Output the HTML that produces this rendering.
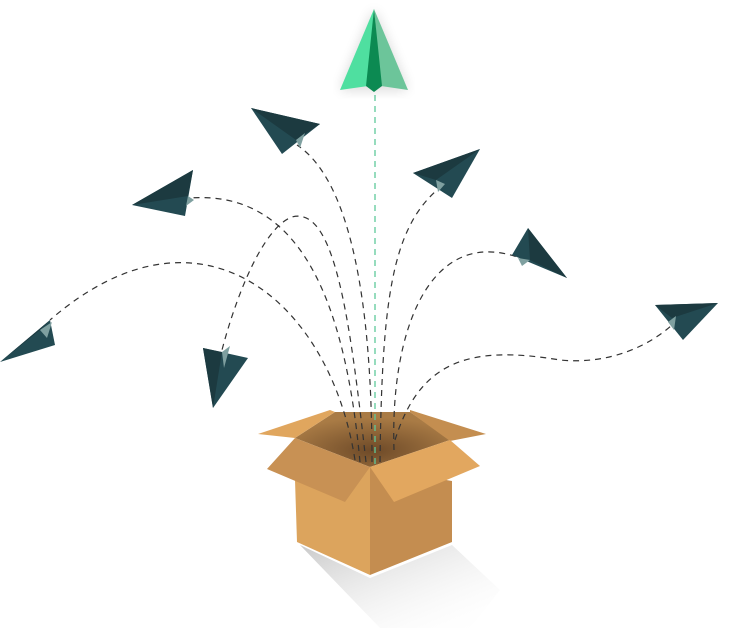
<!DOCTYPE html>
<html><head><style>html,body{margin:0;padding:0;background:#fff;width:730px;height:628px;overflow:hidden}</style></head>
<body>
<svg width="730" height="628" viewBox="0 0 730 628" xmlns="http://www.w3.org/2000/svg">
<defs>
<linearGradient id="sh" x1="0" y1="0" x2="1" y2="1"><stop offset="0" stop-color="#bbb"/><stop offset="1" stop-color="#fff" stop-opacity="0"/></linearGradient>
<radialGradient id="in" cx="0.5" cy="0.7" r="0.6"><stop offset="0" stop-color="#6e4a28"/><stop offset="1" stop-color="#a97b45"/></radialGradient>
<filter id="bl"><feGaussianBlur stdDeviation="6"/></filter>
</defs>
<polygon points="300,545 370,578 452,545 500,590 470,628 380,628" fill="url(#sh)" opacity="0.8"/>
<!-- box back -->
<polygon points="295,438 335,412 410,412 450,440 370,467" fill="url(#in)"/>
<polygon points="258,434 330,410 335,412 295,438" fill="#e0a65e"/>
<polygon points="410,410 486,434 450,441 410,412" fill="#c48e50"/>
<!-- dashed curves -->
<g fill="none" stroke="#333" stroke-width="1.2" stroke-dasharray="6,5">
<path d="M355,460 C330,300 200,190 50,320"/>
<path d="M360,462 C345,300 300,190 190,198"/>
<path d="M366,462 C350,320 335,205 292,217 C262,228 235,300 222,350"/>
<path d="M372,462 C372,300 350,180 297,145"/>
<path d="M380,462 C382,300 392,230 437,190"/>
<path d="M394,450 C390,330 430,225 520,258"/>
<path d="M395,440 C420,360 470,345 560,360 C610,365 650,345 672,325"/>
</g>
<line x1="375" y1="95" x2="375" y2="465" stroke="#5ec99a" stroke-width="1.3" stroke-dasharray="6,5"/>
<!-- box front -->
<polygon points="295,480 370,467 370,575 297,542" fill="#dca45d"/>
<polygon points="370,467 452,481 452,542 370,575" fill="#c48d50"/>
<polygon points="295,438 370,467 345,502 267,469" fill="#c89154"/>
<polygon points="370,467 450,440 480,466 394,502" fill="#e2a75f"/>
<!-- green plane -->
<polygon points="374,9 340,90 408,90" fill="#000" opacity="0.15" filter="url(#bl)"/>
<polygon points="374,9 340,90 368,86" fill="#4fdfa0"/>
<polygon points="374,9 408,90 381,86" fill="#6cc59a"/>
<polygon points="374,9 366,86 374,92 382,86" fill="#0c8a52"/>
<!-- dark planes -->
<g>
<polygon points="251,108 320,124 282,154" fill="#234a52"/><polygon points="251,108 320,124 296,140" fill="#1c3a40"/><polygon points="296,140 305,133 300,148" fill="#7fa0a0"/>
<polygon points="480,149 413,173 452,198" fill="#234a52"/><polygon points="480,149 413,173 436,180" fill="#1c3a40"/><polygon points="436,180 445,184 438,192" fill="#7fa0a0"/>
<polygon points="132,205 193,170 185,216" fill="#234a52"/><polygon points="132,205 193,170 188,196" fill="#1c3a40"/><polygon points="188,196 194,200 186,206" fill="#7fa0a0"/>
<polygon points="0,362 50,320 55,345" fill="#234a52"/><polygon points="0,362 50,320 40,330" fill="#1c3a40"/><polygon points="40,330 52,322 47,338" fill="#7fa0a0"/>
<polygon points="213,408 203,348 248,358" fill="#234a52"/><polygon points="213,408 203,348 222,352" fill="#1c3a40"/><polygon points="222,352 230,346 224,368" fill="#7fa0a0"/>
<polygon points="567,278 528,228 512,255" fill="#234a52"/><polygon points="567,278 528,228 530,260" fill="#1c3a40"/><polygon points="518,258 530,260 522,266" fill="#7fa0a0"/>
<polygon points="718,303 655,305 683,340" fill="#234a52"/><polygon points="718,303 655,305 672,318" fill="#1c3a40"/><polygon points="668,322 676,316 674,330" fill="#7fa0a0"/>
</g>
</svg>
</body></html>
